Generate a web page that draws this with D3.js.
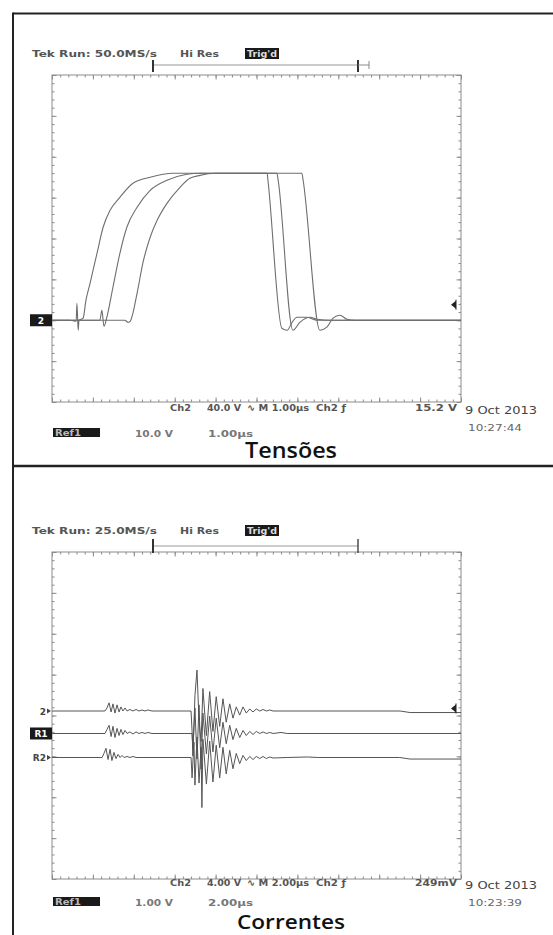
<!DOCTYPE html>
<html><head><meta charset="utf-8">
<script src="https://cdn.jsdelivr.net/npm/d3@7/dist/d3.min.js"></script>
<style>body{margin:0;background:#fff}svg{display:block}</style>
</head><body>
<script>
// ---------------- DATA ----------------
// Panel 1: Tensões (time in µs, Ch2 in V)
const tensaoTitle = "Tensões";
const tensaoHeader = ["Tek Run: 50.0MS/s", "Hi Res", "Trig'd"];
const tensaoStatus = ["Ch2", "40.0 V", "∿ M 1.00µs", "Ch2 ƒ", "15.2 V"];
const tensaoRefRow = ["Ref1", "10.0 V", "1.00µs"];
const tensaoDate = ["9 Oct 2013", "10:27:44"];
const tensaoTimeDomain = [0, 10];
const tensaoVoltDomain = [-80, 240];
const tensaoTrigger = 15.2;
const tensaoCurve1 = [[0,0],[0.44,0],[0.59,-1],[0.61,16.6],[0.64,-9.8],[0.66,0],[0.76,2],[0.83,19.6],[0.93,36.2],[1.10,65.5],[1.25,91],[1.42,107.6],[1.66,120.3],[1.98,134],[2.40,139.9],[2.96,143.8],[5.26,143.8],[5.28,137],[5.62,-7.8],[5.75,-9.8],[5.87,-2],[5.99,2.9],[6.23,2.9],[6.48,0],[10,0]];
const tensaoCurve2 = [[0,0],[1.17,0],[1.22,9.8],[1.27,-5.9],[1.34,2.9],[1.49,32.3],[1.66,65.5],[1.83,91],[2.08,110.5],[2.40,127.1],[2.81,136.9],[3.30,142.8],[3.62,143.8],[5.50,143.8],[5.53,137],[5.89,-9.8],[6.06,-2],[6.31,2.9],[6.48,1],[6.80,0],[10,0]];
const tensaoCurve3 = [[0,0],[1.78,0],[1.86,-2],[1.91,-1],[2.08,26.4],[2.22,55.7],[2.40,81.2],[2.57,97.8],[2.81,114.4],[3.13,130.1],[3.37,138.9],[3.62,141.8],[3.98,143.8],[6.11,143.8],[6.14,137],[6.55,-9.8],[6.72,-6.8],[6.87,2],[7.04,4.9],[7.21,1],[7.41,0],[10,0]];
const tensaoGroundLabels = ["2"];

// Panel 2: Correntes (time in µs, Ch2 in V, traces offset on screen)
const correnteTitle = "Correntes";
const correnteHeader = ["Tek Run: 25.0MS/s", "Hi Res", "Trig'd"];
const correnteStatus = ["Ch2", "4.00 V", "∿ M 2.00µs", "Ch2 ƒ", "249mV"];
const correnteRefRow = ["Ref1", "1.00 V", "2.00µs"];
const correnteDate = ["9 Oct 2013", "10:23:39"];
const correnteTimeDomain = [0, 20];
const correnteVoltDomain = [-16, 16];
const correnteTrigger = 0.249;
const correnteOffsets = [0.44, -1.76, -4.11];
const correnteGroundLabels = ["2", "R1", "R2"];
const correnteTrace1 = [[0,0],[2.59,0],[2.69,0.3],[2.79,0.8],[2.89,-0.1],[2.98,0.7],[3.08,-0.2],[3.18,0.6],[3.28,-0.1],[3.37,0.4],[3.47,0],[3.57,0.3],[3.67,0],[3.81,0.15],[3.96,0],[4.11,0.15],[4.25,0],[4.40,0.1],[4.55,0],[4.69,0.1],[4.89,0],[6.80,0],[6.85,-2.0],[6.89,-4.4],[6.99,1.5],[7.09,4.0],[7.19,-1.0],[7.29,-3.0],[7.38,2.2],[7.55,-2.4],[7.71,1.9],[7.87,-2.0],[8.03,1.4],[8.20,-1.5],[8.36,1.2],[8.52,-1.1],[8.69,0.7],[8.85,-0.7],[9.01,0.4],[9.18,-0.4],[9.34,0.4],[9.50,-0.2],[9.67,0.2],[9.83,-0.1],[9.99,0.2],[10.16,0],[10.32,0.15],[10.48,0],[10.65,0.1],[10.81,0],[17.02,0],[17.51,-0.15],[20,-0.15]];
const correnteTrace2 = [[0,0],[2.59,0],[2.69,0.4],[2.79,0.8],[2.89,-0.3],[2.98,0.7],[3.08,-0.4],[3.18,0.5],[3.28,-0.2],[3.37,0.4],[3.47,-0.1],[3.57,0.3],[3.67,0],[3.81,0.15],[3.96,-0.05],[4.11,0.15],[4.25,0],[4.40,0.1],[4.55,0],[4.69,0.1],[4.89,0],[6.85,0],[6.89,-1.5],[6.99,2.5],[7.09,-2.5],[7.19,2.8],[7.29,-3.5],[7.38,2.0],[7.55,-2.0],[7.71,1.7],[7.87,-1.8],[8.03,1.5],[8.20,-1.4],[8.36,1.1],[8.52,-1.0],[8.69,0.8],[8.85,-0.6],[9.01,0.5],[9.18,-0.4],[9.34,0.3],[9.50,-0.2],[9.67,0.2],[9.83,-0.1],[9.99,0.2],[10.16,0],[10.32,0.15],[10.48,0],[10.65,0.1],[10.81,0],[11.2,0.1],[11.5,0],[20,0]];
const correnteTrace3 = [[0,0],[2.45,0],[2.54,0.4],[2.64,0.9],[2.74,-0.2],[2.84,0.8],[2.93,-0.3],[3.03,0.5],[3.13,-0.1],[3.23,0.3],[3.33,0],[3.42,0.2],[3.52,0],[3.67,0.1],[3.81,0],[3.96,0.1],[4.11,0],[6.80,0],[6.85,-2.0],[6.94,1.5],[6.99,-2.7],[7.09,2.0],[7.19,-2.5],[7.29,1.0],[7.33,-4.9],[7.38,1.8],[7.55,-2.6],[7.71,1.6],[7.87,-2.4],[8.03,1.2],[8.20,-2.0],[8.36,1.0],[8.52,-1.6],[8.69,0.7],[8.85,-1.1],[9.01,0.4],[9.18,-0.6],[9.34,0.2],[9.50,-0.3],[9.67,0.1],[9.83,-0.2],[9.99,0.1],[10.16,-0.1],[10.32,0.1],[10.48,-0.1],[10.65,0.05],[10.81,-0.05],[11.5,0],[12.5,0.05],[13.0,0],[17.0,0],[17.5,-0.15],[20,-0.15]];

// ---------------- DRAW ----------------
const W = 553, H = 935;
const svg = d3.select("body").append("svg").attr("width", W).attr("height", H);
const TEK = "'DejaVu Sans', sans-serif";

// outer frame
svg.append("line").attr("x1",13).attr("y1",13.5).attr("x2",W).attr("y2",13.5).attr("stroke","#222").attr("stroke-width",1.8);
svg.append("line").attr("x1",13).attr("y1",12.5).attr("x2",13).attr("y2",H).attr("stroke","#222").attr("stroke-width",2);
svg.append("line").attr("x1",13).attr("y1",466).attr("x2",W).attr("y2",466).attr("stroke","#222").attr("stroke-width",2.6);

function txt(g, s, x, yb, len, o = {}) {
  const t = g.append("text").attr("x", x).attr("y", yb).text(s)
    .attr("font-family", o.family || TEK)
    .attr("font-size", o.size || 9.5)
    .attr("font-weight", o.weight || "bold")
    .attr("fill", o.fill || "#555");
  if (len) t.attr("textLength", len).attr("lengthAdjust", "spacingAndGlyphs");
  if (o.anchor) t.attr("text-anchor", o.anchor);
  return t;
}

function drawPanel(p, oy) {
  const g = svg.append("g").attr("transform", `translate(0,${oy})`);
  const X0 = 52, X1 = 461, Y0 = 75, Y1 = 402;
  const x = d3.scaleLinear().domain(p.timeDomain).range([X0, X1]);
  const y = d3.scaleLinear().domain(p.voltDomain).range([Y1, Y0]);

  // graticule frame with ticks (via axes)
  g.append("rect").attr("x", X0).attr("y", Y0).attr("width", X1 - X0).attr("height", Y1 - Y0)
    .attr("fill", "none").attr("stroke", "#8c8c8c").attr("stroke-width", 1);
  const tStep = (p.timeDomain[1] - p.timeDomain[0]) / 50;
  const vStep = (p.voltDomain[1] - p.voltDomain[0]) / 40;
  const tMinor = d3.range(51).map(i => p.timeDomain[0] + i * tStep);
  const tMajor = d3.range(11).map(i => p.timeDomain[0] + i * tStep * 5);
  const vMinor = d3.range(41).map(i => p.voltDomain[0] + i * vStep);
  const vMajor = d3.range(9).map(i => p.voltDomain[0] + i * vStep * 5);
  const axes = [
    [d3.axisBottom(x), `translate(0,${Y0})`, tMinor, tMajor],
    [d3.axisTop(x), `translate(0,${Y1})`, tMinor, tMajor],
    [d3.axisRight(y), `translate(${X0},0)`, vMinor, vMajor],
    [d3.axisLeft(y), `translate(${X1},0)`, vMinor, vMajor]
  ];
  axes.forEach(([ax, tr, minor, major]) => {
    [[minor, 2.5], [major, 4.5]].forEach(([vals, sz]) => {
      const a = g.append("g").attr("transform", tr)
        .call(ax.tickValues(vals).tickSize(sz).tickFormat(""));
      a.select(".domain").remove();
      a.selectAll("line").attr("stroke", "#8c8c8c");
    });
  });

  // waveforms
  p.traces.forEach((tr, i) => {
    const off = p.offsets[i];
    g.append("path").datum(tr)
      .attr("fill", "none").attr("stroke", p.stroke).attr("stroke-width", p.width)
      .attr("stroke-linejoin", "round")
      .attr("d", d3.line().curve(p.curve).x(d => x(d[0])).y(d => y(d[1] + off)));
  });

  // ground markers on the left
  p.groundLabels.forEach((lab, i) => {
    const gy = y(p.offsets[i]);
    const style = p.groundStyles[i];
    if (style === "box") {
      g.append("rect").attr("x", 30).attr("y", gy - 6).attr("width", 22).attr("height", 12).attr("fill", "#1a1a1a");
      txt(g, lab, 41, gy + 3.5, null, { fill: "#fff", size: 9, anchor: "middle" });
    } else {
      txt(g, lab, 46, gy + 3.5, null, { fill: "#444", size: 9, anchor: "end" });
      g.append("path").attr("d", `M${47},${gy - 2.5}L${51},${gy}L${47},${gy + 2.5}Z`).attr("fill", "#444");
    }
  });

  // trigger level arrow at the right
  const ty = y(p.trigger + p.offsets[0]);
  g.append("path").attr("d", `M${X1 - 10},${ty}L${X1 - 5},${ty - 4}L${X1 - 5},${ty + 4}Z`).attr("fill", "#222");
  g.append("line").attr("x1", X1 - 5).attr("x2", X1 - 5).attr("y1", ty - 5).attr("y2", ty + 5).attr("stroke", "#222").attr("stroke-width", 1);

  // header
  txt(g, p.header[0], 32, 57, 125);
  txt(g, p.header[1], 180, 57, 39);
  g.append("rect").attr("x", 245).attr("y", 48).attr("width", 34).attr("height", 11).attr("fill", "#1a1a1a");
  txt(g, p.header[2], 247, 57, 30, { fill: "#ddd", size: 9 });

  // record bracket
  const by = p.bracketY;
  g.append("line").attr("x1", 153).attr("x2", 358).attr("y1", by).attr("y2", by).attr("stroke", "#999").attr("stroke-width", 1);
  g.append("line").attr("x1", 153).attr("x2", 153).attr("y1", p.bracketTop).attr("y2", p.bracketBot).attr("stroke", "#333").attr("stroke-width", 2);
  g.append("line").attr("x1", 358).attr("x2", 358).attr("y1", p.bracketTop).attr("y2", p.bracketBot).attr("stroke", "#333").attr("stroke-width", p.bracketEnd ? 2 : 1.3);
  if (p.bracketEnd) {
    g.append("line").attr("x1", 358).attr("x2", 369).attr("y1", by).attr("y2", by).attr("stroke", "#888");
    g.append("line").attr("x1", 369).attr("x2", 369).attr("y1", by - 4).attr("y2", by + 4).attr("stroke", "#888");
  }

  // status row
  const s = p.rowShift;
  txt(g, p.status[0], 170, 411 + s, 21);
  txt(g, p.status[1], 207, 411 + s, 34);
  txt(g, p.status[2], 247, 411 + s, 62);
  txt(g, p.status[3], 316, 411 + s, 30);
  txt(g, p.status[4], 415, 411 + s, 42);
  txt(g, p.date[0], 465, 414 + s, 72, { weight: "normal", size: 10, fill: "#444" });
  txt(g, p.date[1], 468, 431 + s, 54, { weight: "normal", size: 9.5, fill: "#666" });

  // ref row
  const r = p.refShift;
  g.append("rect").attr("x", 53).attr("y", 428 + r).attr("width", 47).attr("height", 9).attr("fill", "#1a1a1a");
  txt(g, p.refRow[0], 55, 436 + r, 26, { fill: "#bbb", size: 8.5 });
  txt(g, p.refRow[1], 135, 437 + r, 38, { fill: "#777" });
  txt(g, p.refRow[2], 208, 437 + r, 45, { fill: "#777" });

  // title
  txt(g, p.title, 291, p.titleY, p.titleLen, { family: "'Open Sans', sans-serif", size: p.titleSize, weight: 600, fill: "#111", anchor: "middle" });
}

drawPanel({
  title: tensaoTitle, header: tensaoHeader, status: tensaoStatus, refRow: tensaoRefRow, date: tensaoDate,
  timeDomain: tensaoTimeDomain, voltDomain: tensaoVoltDomain, trigger: tensaoTrigger,
  traces: [tensaoCurve1, tensaoCurve2, tensaoCurve3], offsets: [0, 0, 0],
  groundLabels: tensaoGroundLabels, groundStyles: ["box"],
  stroke: "#6e6e6e", width: 1.1, curve: d3.curveMonotoneX,
  bracketY: 65, bracketTop: 60, bracketBot: 72, bracketEnd: true,
  rowShift: 0, refShift: 0,
  titleY: 458, titleLen: 92, titleSize: 21
}, 0);

drawPanel({
  title: correnteTitle, header: correnteHeader, status: correnteStatus, refRow: correnteRefRow, date: correnteDate,
  timeDomain: correnteTimeDomain, voltDomain: correnteVoltDomain, trigger: correnteTrigger,
  traces: [correnteTrace1, correnteTrace2, correnteTrace3], offsets: correnteOffsets,
  groundLabels: correnteGroundLabels, groundStyles: ["text", "box", "text"],
  stroke: "#555", width: 1, curve: d3.curveLinear,
  bracketY: 69, bracketTop: 62, bracketBot: 76, bracketEnd: false,
  rowShift: -2, refShift: -8,
  titleY: 452, titleLen: 108, titleSize: 19
}, 477);
</script>
</body></html>
